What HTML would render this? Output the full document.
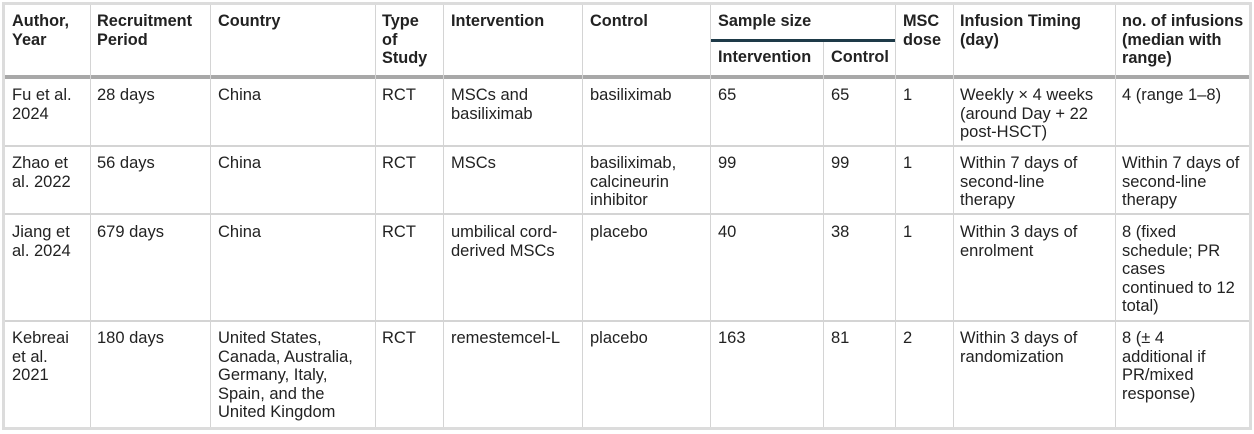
<!DOCTYPE html>
<html><head><meta charset="utf-8"><style>
html,body{margin:0;padding:0;background:#fff;}
#w{position:relative;width:1254px;height:434px;overflow:hidden;font-family:"Liberation Sans",sans-serif;font-size:16.5px;line-height:18.5px;color:#222;}
.b{position:absolute;background:#d4d4d4;}
.t{position:absolute;white-space:nowrap;top:0;}
.h{font-weight:bold;font-size:16.3px;}
</style></head><body><div id="w">
<div class="b" style="left:2px;top:2px;width:1250px;height:3px;background:#dcdcdc"></div>
<div class="b" style="left:2px;top:427px;width:1250px;height:3px;background:#dcdcdc"></div>
<div class="b" style="left:2px;top:2px;width:3px;height:428px;background:#dcdcdc"></div>
<div class="b" style="left:1249px;top:2px;width:3px;height:428px;background:#dcdcdc"></div>
<div class="b" style="left:5px;top:75px;width:1244px;height:4px;background:#a8a8a8"></div>
<div class="b" style="left:5px;top:145px;width:1244px;height:2px"></div>
<div class="b" style="left:5px;top:213px;width:1244px;height:2px"></div>
<div class="b" style="left:5px;top:320px;width:1244px;height:2px"></div>
<div class="b" style="left:90px;top:5px;width:1px;height:422px"></div>
<div class="b" style="left:210px;top:5px;width:1px;height:422px"></div>
<div class="b" style="left:375px;top:5px;width:1px;height:422px"></div>
<div class="b" style="left:443px;top:5px;width:1px;height:422px"></div>
<div class="b" style="left:582px;top:5px;width:1px;height:422px"></div>
<div class="b" style="left:710px;top:5px;width:1px;height:422px"></div>
<div class="b" style="left:823px;top:42px;width:1px;height:385px"></div>
<div class="b" style="left:895px;top:5px;width:1px;height:422px"></div>
<div class="b" style="left:953px;top:5px;width:1px;height:422px"></div>
<div class="b" style="left:1115px;top:5px;width:1px;height:422px"></div>
<div class="b" style="left:711px;top:39px;width:184px;height:3px;background:#1e3a48"></div>
<div class="t h" style="left:12px;top:12px">Author,<br>Year</div>
<div class="t h" style="left:97px;top:12px">Recruitment<br>Period</div>
<div class="t h" style="left:218px;top:12px">Country</div>
<div class="t h" style="left:382px;top:12px">Type<br>of<br>Study</div>
<div class="t h" style="left:451px;top:12px">Intervention</div>
<div class="t h" style="left:590px;top:12px">Control</div>
<div class="t h" style="left:718px;top:12px">Sample size</div>
<div class="t h" style="left:718px;top:48px">Intervention</div>
<div class="t h" style="left:831px;top:48px">Control</div>
<div class="t h" style="left:903px;top:12px">MSC<br>dose</div>
<div class="t h" style="left:960px;top:12px">Infusion Timing<br>(day)</div>
<div class="t h" style="left:1122px;top:12px">no. of infusions<br>(median with<br>range)</div>
<div class="t" style="left:12px;top:86px">Fu et al.<br>2024</div>
<div class="t" style="left:97px;top:86px">28 days</div>
<div class="t" style="left:218px;top:86px">China</div>
<div class="t" style="left:382px;top:86px">RCT</div>
<div class="t" style="left:451px;top:86px">MSCs and<br>basiliximab</div>
<div class="t" style="left:590px;top:86px">basiliximab</div>
<div class="t" style="left:718px;top:86px">65</div>
<div class="t" style="left:831px;top:86px">65</div>
<div class="t" style="left:903px;top:86px">1</div>
<div class="t" style="left:960px;top:86px">Weekly × 4 weeks<br>(around Day + 22<br>post-HSCT)</div>
<div class="t" style="left:1122px;top:86px">4 (range 1–8)</div>
<div class="t" style="left:12px;top:154px">Zhao et<br>al. 2022</div>
<div class="t" style="left:97px;top:154px">56 days</div>
<div class="t" style="left:218px;top:154px">China</div>
<div class="t" style="left:382px;top:154px">RCT</div>
<div class="t" style="left:451px;top:154px">MSCs</div>
<div class="t" style="left:590px;top:154px">basiliximab,<br>calcineurin<br>inhibitor</div>
<div class="t" style="left:718px;top:154px">99</div>
<div class="t" style="left:831px;top:154px">99</div>
<div class="t" style="left:903px;top:154px">1</div>
<div class="t" style="left:960px;top:154px">Within 7 days of<br>second-line<br>therapy</div>
<div class="t" style="left:1122px;top:154px">Within 7 days of<br>second-line<br>therapy</div>
<div class="t" style="left:12px;top:223px">Jiang et<br>al. 2024</div>
<div class="t" style="left:97px;top:223px">679 days</div>
<div class="t" style="left:218px;top:223px">China</div>
<div class="t" style="left:382px;top:223px">RCT</div>
<div class="t" style="left:451px;top:223px">umbilical cord-<br>derived MSCs</div>
<div class="t" style="left:590px;top:223px">placebo</div>
<div class="t" style="left:718px;top:223px">40</div>
<div class="t" style="left:831px;top:223px">38</div>
<div class="t" style="left:903px;top:223px">1</div>
<div class="t" style="left:960px;top:223px">Within 3 days of<br>enrolment</div>
<div class="t" style="left:1122px;top:223px">8 (fixed<br>schedule; PR<br>cases<br>continued to 12<br>total)</div>
<div class="t" style="left:12px;top:329px">Kebreai<br>et al.<br>2021</div>
<div class="t" style="left:97px;top:329px">180 days</div>
<div class="t" style="left:218px;top:329px">United States,<br>Canada, Australia,<br>Germany, Italy,<br>Spain, and the<br>United Kingdom</div>
<div class="t" style="left:382px;top:329px">RCT</div>
<div class="t" style="left:451px;top:329px">remestemcel-L</div>
<div class="t" style="left:590px;top:329px">placebo</div>
<div class="t" style="left:718px;top:329px">163</div>
<div class="t" style="left:831px;top:329px">81</div>
<div class="t" style="left:903px;top:329px">2</div>
<div class="t" style="left:960px;top:329px">Within 3 days of<br>randomization</div>
<div class="t" style="left:1122px;top:329px">8 (± 4<br>additional if<br>PR/mixed<br>response)</div>
</div></body></html>
